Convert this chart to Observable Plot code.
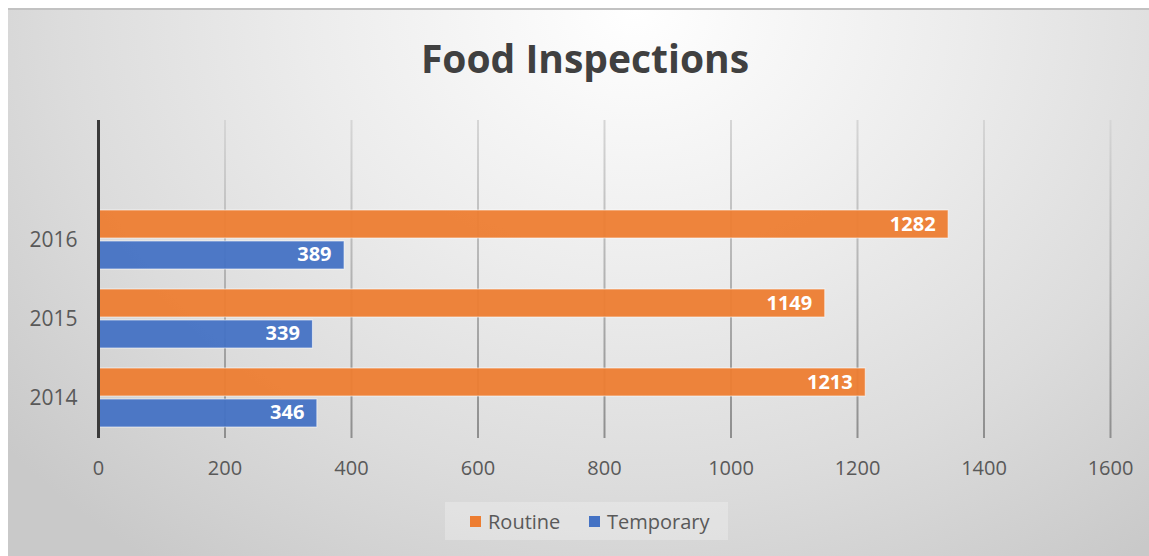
<!DOCTYPE html>
<html>
<head>
<meta charset="utf-8">
<script src="https://cdn.jsdelivr.net/npm/d3@7"></script>
<script src="https://cdn.jsdelivr.net/npm/@observablehq/plot@0.6"></script>
<style>
  html, body { margin: 0; padding: 0; background: #ffffff; }
  body { width: 1149px; height: 556px; overflow: hidden; position: relative; font-family: "Open Sans", sans-serif; }
  #frame {
    position: absolute; left: 8px; top: 8px; width: 1141px; height: 548px;
    background: radial-gradient(ellipse 72% 125% at 55% 0%, #ffffff 0%, #ececec 40%, #dcdcdc 70%, #c9c9c9 100%);
    border-top: 2px solid #c2c2c2; box-sizing: border-box;
  }
  #chart { position: absolute; left: 0; top: 0; }
</style>
</head>
<body>
<div id="frame"></div>
<div id="chart"></div>
<script>
// ---- data ----
const years = ["2014", "2015", "2016"];
const seriesNames = ["Routine", "Temporary"];
const routineLengths = [1213, 1149, 1344];      // bar lengths as drawn in the picture
const routineLabels = ["1213", "1149", "1282"]; // data labels as printed
const temporaryValues = [346, 339, 389];
const temporaryLabels = ["346", "339", "389"];
const xTicks = [0, 200, 400, 600, 800, 1000, 1200, 1400, 1600];
const yDomain = ["", "2016", "2015", "2014"];
const seriesColors = ["#ED7D31", "#4472C4"];
const titleText = "Food Inspections";

const routine = years.map((y, i) => ({year: y, value: routineLengths[i], label: routineLabels[i]}));
const temporary = years.map((y, i) => ({year: y, value: temporaryValues[i], label: temporaryLabels[i]}));

const textColor = "#595959";
const W = 1149, H = 556;

const chart = Plot.plot({
  width: W,
  height: H,
  marginLeft: 98,
  marginRight: 39,
  marginTop: 120,
  marginBottom: 118,
  style: {background: "transparent", fontFamily: "'Open Sans', sans-serif", color: textColor},
  x: {domain: [0, 1600], axis: null, label: null},
  y: {domain: yDomain, paddingInner: 0.258, paddingOuter: 0.129, axis: null, label: null},
  marks: [
    Plot.ruleX(xTicks.slice(1), {x: d => d, stroke: "url(#gridGrad)", strokeWidth: 2}),
    Plot.barX(routine, {x: "value", y: "year", fill: seriesColors[0], fillOpacity: 0.95,
      insetBottom: 31, stroke: "#ffffff", strokeOpacity: 0.6, strokeWidth: 1}),
    Plot.barX(temporary, {x: "value", y: "year", fill: seriesColors[1], fillOpacity: 0.95,
      insetTop: 31, stroke: "#ffffff", strokeOpacity: 0.6, strokeWidth: 1}),
    Plot.text(routine, {x: "value", y: "year", text: "label", textAnchor: "end", dx: -13, dy: -15,
      fill: "#ffffff", fontWeight: "bold", fontSize: 20}),
    Plot.text(temporary, {x: "value", y: "year", text: "label", textAnchor: "end", dx: -13, dy: 15,
      fill: "#ffffff", fontWeight: "bold", fontSize: 20}),
    Plot.ruleX([0], {stroke: "#3a3a3a", strokeWidth: 3}),
    Plot.axisX(xTicks, {tickSize: 0, tickPadding: 22, fontSize: 20, fill: textColor, label: null, tickFormat: d => String(d)}),
    Plot.axisY(yDomain, {tickSize: 0, tickPadding: 21, fontSize: 21, fill: textColor, label: null, tickFormat: d => d})
  ]
});

document.getElementById("chart").appendChild(chart);

const svg = d3.select(chart);
// gradient for grid lines
const defs = svg.insert("defs", ":first-child");
const g = defs.append("linearGradient").attr("id", "gridGrad")
  .attr("gradientUnits", "userSpaceOnUse").attr("x1", 0).attr("x2", 0).attr("y1", 120).attr("y2", 438);
g.append("stop").attr("offset", "0%").attr("stop-color", "#d6d6d6");
g.append("stop").attr("offset", "100%").attr("stop-color", "#8e8e8e");

// title
svg.append("text")
  .attr("x", 585).attr("y", 73)
  .attr("text-anchor", "middle")
  .attr("font-family", "'Open Sans', sans-serif")
  .attr("font-weight", "bold")
  .attr("font-size", 39)
  .attr("fill", "#404040")
  .text(titleText);

// legend
const leg = svg.append("g").attr("text-anchor", "start");
leg.append("rect").attr("x", 445).attr("y", 502).attr("width", 283).attr("height", 38)
  .attr("fill", "#ffffff").attr("fill-opacity", 0.25);
const legX = [470, 589];
seriesNames.forEach((name, i) => {
  leg.append("rect").attr("x", legX[i]).attr("y", 516).attr("width", 11).attr("height", 11)
    .attr("fill", seriesColors[i]);
  leg.append("text").attr("x", legX[i] + 18).attr("y", 522).attr("dy", "0.35em")
    .attr("text-anchor", "start")
    .attr("font-family", "'Open Sans', sans-serif").attr("font-size", 20).attr("fill", textColor)
    .text(name);
});
</script>
</body>
</html>
